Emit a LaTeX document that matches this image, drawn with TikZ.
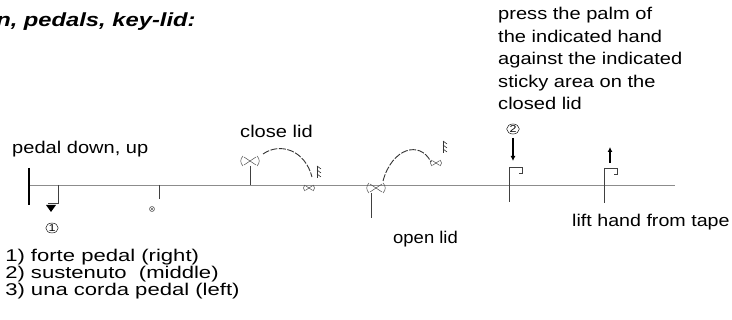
\documentclass[tikz,border=0pt]{standalone}
\usepackage{fontspec}
\setmainfont{Liberation Sans}
\usetikzlibrary{arrows.meta}

\begin{document}
\begin{tikzpicture}[x=1pt, y=-1pt,
            txt/.style={font=\fontsize{17}{17}\selectfont, xscale=1.18, transform shape, inner sep=0pt, align=left},
            head/.style={font=\fontsize{19}{19}\selectfont\bfseries\itshape, xscale=1.25, transform shape, inner sep=0pt},
            staff/.style={black!45, line width=0.7pt},
            stem/.style={black!75, line width=0.6pt},
            num/.style={draw, circle, inner sep=0.4pt, line width=0.45pt, font=\fontsize{10}{10}\selectfont, xscale=1.25, transform shape},
            hand arrow/.style={-{Latex[length=5pt,width=5pt]}, line width=1.4pt},
            lid move/.style={black!80, line width=0.9pt, dash pattern=on 7pt off 1.5pt},
            lid/.pic={
                \draw[black!70, line width=0.5pt] (-7,-5) .. controls (-10,-2) and (-10,2) .. (-7,5);
                \draw[black!70, line width=0.5pt] (7,-5) .. controls (10,-2) and (10,2) .. (7,5);
                \draw[black!70, line width=0.5pt] (-6,-4) -- (0,0) -- (-6,4) (6,-4) -- (0,0) -- (6,4);
            },
            hatch/.pic={
                \draw[black!80, line width=0.6pt] (0,-6) -- (0,6);
                \draw[black!80, line width=0.6pt] (0,-6) -- (4,-3) (0,-2) -- (4,1) (0,2) -- (4,5);
            },
            flag/.pic={
                \draw[stem] (0,0) -- (0,35);
                \draw[black!75, line width=0.6pt] (0,0) -- (13,0) -- (13,6) -- (10,6);
            },
            ]
            \useasboundingbox (0,0) rectangle (732,320);

            % title and staff
            \node[head, anchor=base west] (title) at (-4,27) {n, pedals, key-lid:};
            \coordinate (s0) at (28,185);
            \coordinate (s1) at (675,185);
            \draw[staff] (s0) -- (s1);
            \draw[line width=2.4pt] (29,168) -- (29,205);

            % pedal down, up
            \node[txt, anchor=west] (pedal) at (12,149) {pedal down, up};
            \coordinate (pd) at (58,185);
            \coordinate (pf) at (58,203);
            \draw[stem] (pd) -- (pf) -- ++(-10,0);
            \fill (46,205) -- (56,205) -- (51,212) -- cycle;
            \node[num] (n1) at (52,228) {1};
            \coordinate (pu) at (159,185);
            \draw[stem] (pu) -- ++(0,14);
            \node[draw, circle, black!60, line width=0.5pt, inner sep=1.8pt] (up) at (152,209) {};
            \draw[black!60, line width=0.5pt] (up.north west) -- (up.south east) (up.north east) -- (up.south west);

            % close lid
            \node[txt, anchor=west] (close) at (240,131) {close lid};
            \pic at (250,161) {lid};
            \coordinate (c0) at (250,166);
            \draw[stem] (c0) -- (250,185);
            \coordinate (ca) at (263,154);
            \coordinate (cb) at (312,177);
            \draw[lid move] (ca) .. controls (280,142) and (305,150) .. (cb);
            \pic at (317,172) {hatch};
            \pic[scale=0.6] at (309,188) {lid};

            % open lid
            \pic at (376,188) {lid};
            \coordinate (o0) at (371,193);
            \draw[stem] (o0) -- ++(0,25);
            \node[txt, anchor=west, xscale=0.92] (open) at (393,239) {open lid};
            \coordinate (oa) at (383,181);
            \coordinate (ob) at (431,162);
            \draw[lid move] (oa) .. controls (392,148) and (420,140) .. (ob);
            \pic[scale=0.6] at (436,163) {lid};
            \pic at (443,147) {hatch};

            % press the palm
            \node[txt, anchor=north west, font=\fontsize{17}{22.5}\selectfont] (press) at (498,7)
                {press the palm of\\the indicated hand\\against the indicated\\sticky area on the\\closed lid};
            \node[num] (n2) at (513,129) {2};
            \coordinate (pa) at (513,138);
            \coordinate (pb) at (513,161);
            \draw[hand arrow] (pa) -- (pb);
            \pic at (509,167) {flag};

            % lift hand
            \coordinate (la) at (610,163);
            \coordinate (lb) at (610,147);
            \draw[hand arrow] (la) -- (lb);
            \pic at (604,168) {flag};
            \node[txt, anchor=west, xscale=0.98] (lift) at (572,222) {lift hand from tape};

            % legend
            \node[txt, anchor=north west, xscale=1.1, font=\fontsize{17}{17}\selectfont] (legend) at (5,249)
                {1) forte pedal (right)\\2) sustenuto\ \ (middle)\\3) una corda pedal (left)};
        \end{tikzpicture}
\end{document}
